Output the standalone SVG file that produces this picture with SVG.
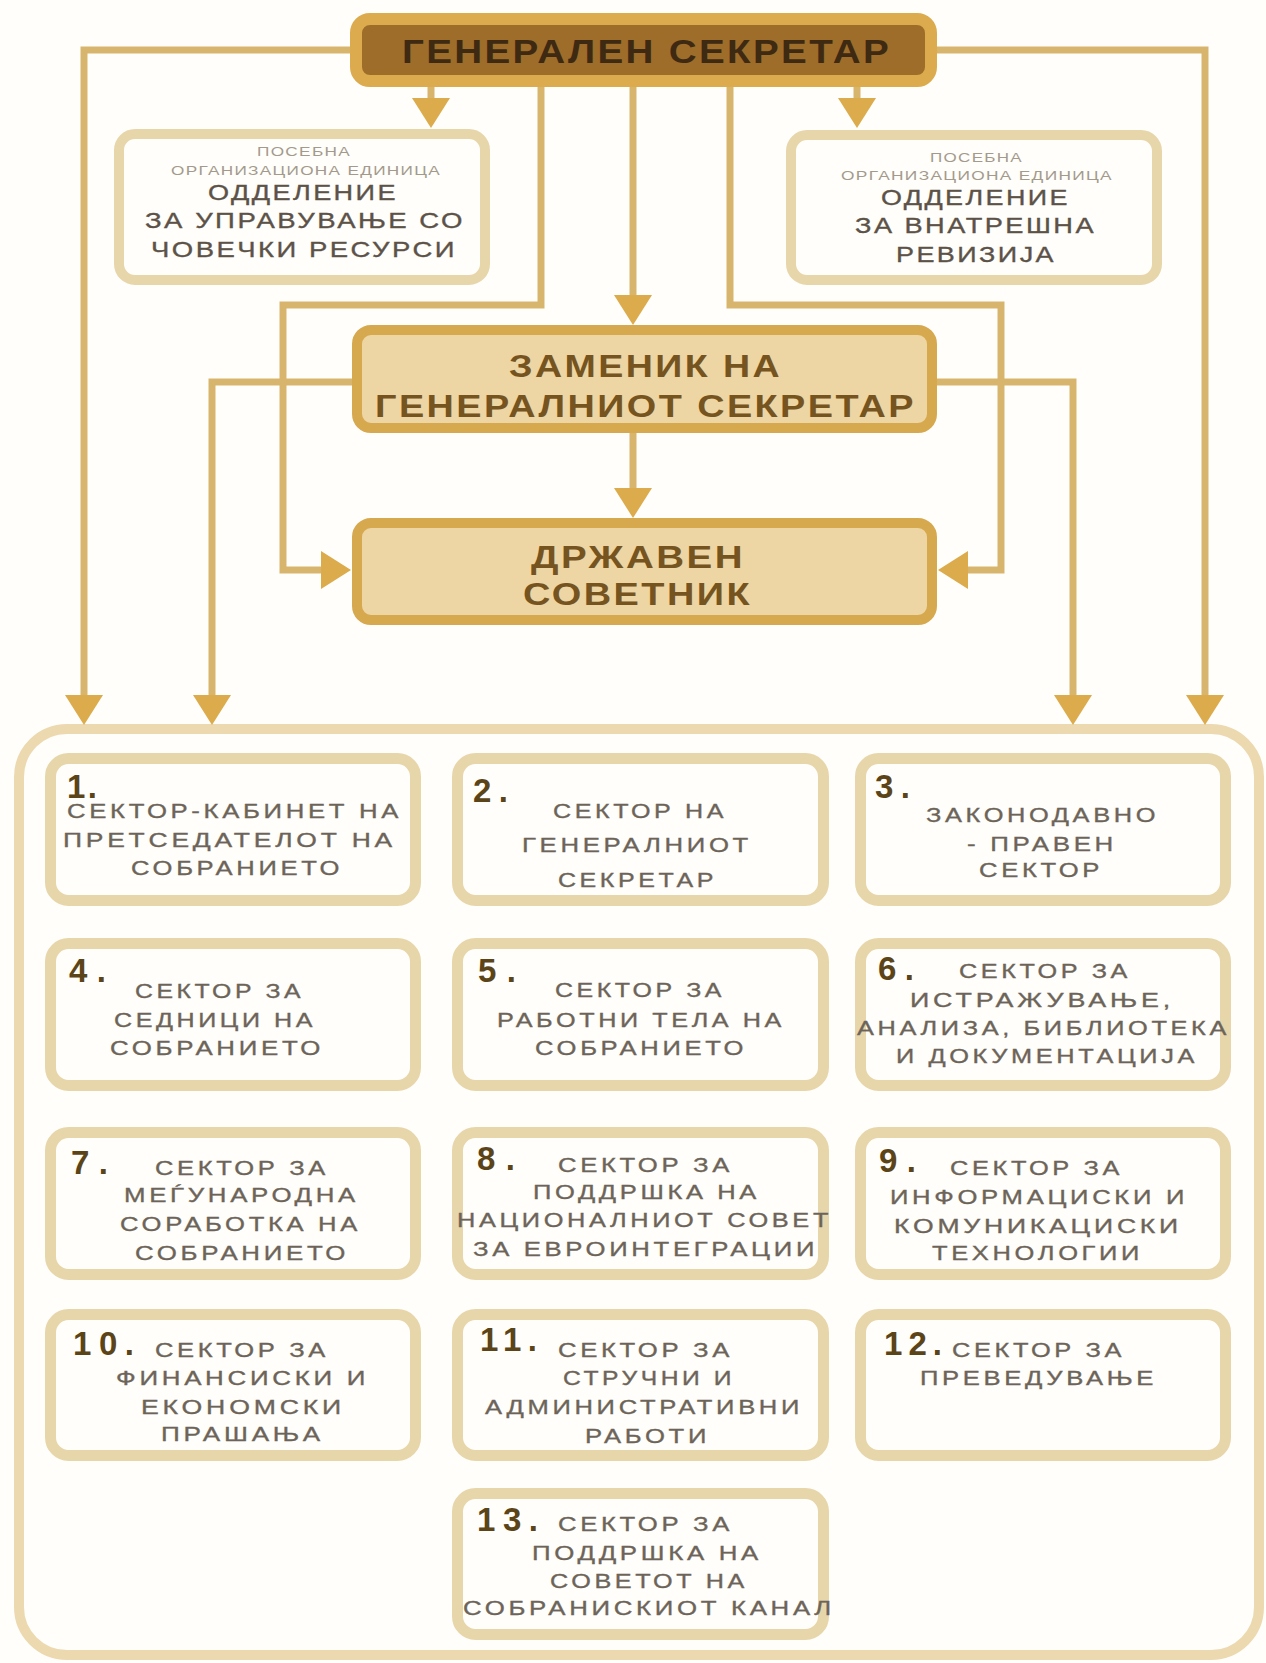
<svg xmlns="http://www.w3.org/2000/svg" width="1266" height="1663" viewBox="0 0 1266 1663">
<defs>
<marker id="ah" viewBox="0 0 30 38" markerWidth="30" markerHeight="38" refX="18" refY="19" orient="auto" markerUnits="userSpaceOnUse">
<path d="M0,0 L30,19 L0,38 Z" fill="#dbab4c"/>
</marker>
<style>
text{font-family:"Liberation Sans",Arial,sans-serif}
.conn{fill:none;stroke:#d8b56c;stroke-width:7;marker-end:url(#ah)}
.sec rect{fill:#fffefa;stroke:#e8d6ab;stroke-width:11}
.num{font-size:33px;font-weight:bold;fill:#5c4419}
.t{font-size:21px;letter-spacing:3px;fill:#6d6459;stroke:#6d6459;stroke-width:0.35px}
.sub rect{fill:#fffefa;stroke:#e8d6ab;stroke-width:10}
.sm{font-size:13px;letter-spacing:1px;fill:#a39a8c}
.st{font-size:22px;letter-spacing:2px;fill:#5c5248;stroke:#5c5248;stroke-width:0.35px}
.h1{font-size:33px;letter-spacing:2px;font-weight:bold;fill:#3e2a12}
.h2{font-size:31px;letter-spacing:2px;font-weight:bold;fill:#76541f}
.mid rect{fill:#edd6a3;stroke:#d7a94f;stroke-width:10}
</style>
</defs>
<rect width="1266" height="1663" fill="#fffefb"/>

<g id="container">
<rect x="19" y="729" width="1240" height="926" rx="48" fill="none" stroke="#ecd9b0" stroke-width="10"/>
</g>

<g id="connectors">
<path class="conn" d="M350,50 H84 V713"/>
<path class="conn" d="M937,50 H1205 V713"/>
<path class="conn" d="M431,87 V116"/>
<path class="conn" d="M857,87 V116"/>
<path class="conn" d="M541,87 V305 H283 V570 H339"/>
<path class="conn" d="M730,87 V305 H1001 V570 H950"/>
<path class="conn" d="M633,87 V313"/>
<path class="conn" d="M352,382 H212 V713"/>
<path class="conn" d="M937,382 H1073 V713"/>
<path class="conn" d="M633,433 V506"/>
</g>

<g id="generalen-sekretar">
<rect x="356" y="19" width="575" height="62" rx="14" fill="#9e6d2a" stroke="#dcab4d" stroke-width="12"/>
<text class="h1" x="402" y="63" textLength="489" lengthAdjust="spacingAndGlyphs">ГЕНЕРАЛЕН СЕКРЕТАР</text>
</g>

<g id="oddelenie-chovechki" class="sub">
<rect x="119" y="134" width="366" height="146" rx="16"/>
<text class="sm" x="257" y="156" textLength="94" lengthAdjust="spacingAndGlyphs">ПОСЕБНА</text>
<text class="sm" x="171" y="175" textLength="270" lengthAdjust="spacingAndGlyphs">ОРГАНИЗАЦИОНА ЕДИНИЦА</text>
<text class="st" x="208" y="200" textLength="190" lengthAdjust="spacingAndGlyphs">ОДДЕЛЕНИЕ</text>
<text class="st" x="145" y="228" textLength="320" lengthAdjust="spacingAndGlyphs">ЗА УПРАВУВАЊЕ СО</text>
<text class="st" x="151" y="257" textLength="306" lengthAdjust="spacingAndGlyphs">ЧОВЕЧКИ РЕСУРСИ</text>
</g>

<g id="oddelenie-revizija" class="sub">
<rect x="791" y="135" width="366" height="145" rx="16"/>
<text class="sm" x="930" y="162" textLength="93" lengthAdjust="spacingAndGlyphs">ПОСЕБНА</text>
<text class="sm" x="841" y="180" textLength="272" lengthAdjust="spacingAndGlyphs">ОРГАНИЗАЦИОНА ЕДИНИЦА</text>
<text class="st" x="881" y="205" textLength="189" lengthAdjust="spacingAndGlyphs">ОДДЕЛЕНИЕ</text>
<text class="st" x="855" y="233" textLength="241" lengthAdjust="spacingAndGlyphs">ЗА ВНАТРЕШНА</text>
<text class="st" x="896" y="262" textLength="160" lengthAdjust="spacingAndGlyphs">РЕВИЗИЈА</text>
</g>

<g id="zamenik" class="mid">
<rect x="357" y="330" width="575" height="98" rx="14"/>
<text class="h2" x="509" y="377" textLength="273" lengthAdjust="spacingAndGlyphs">ЗАМЕНИК НА</text>
<text class="h2" x="375" y="417" textLength="541" lengthAdjust="spacingAndGlyphs">ГЕНЕРАЛНИОТ СЕКРЕТАР</text>
</g>

<g id="drzhaven-sovetnik" class="mid">
<rect x="357" y="523" width="575" height="97" rx="14"/>
<text class="h2" x="531" y="568" textLength="214" lengthAdjust="spacingAndGlyphs">ДРЖАВЕН</text>
<text class="h2" x="523" y="605" textLength="229" lengthAdjust="spacingAndGlyphs">СОВЕТНИК</text>
</g>

<g id="sektor-1" class="sec">
<rect x="50.5" y="758.5" width="365" height="142" rx="18"/>
<text class="num" x="67" y="798" textLength="30" lengthAdjust="spacing">1.</text>
<text class="t" x="67" y="818" textLength="335" lengthAdjust="spacingAndGlyphs">СЕКТОР-КАБИНЕТ НА</text>
<text class="t" x="63" y="847" textLength="333" lengthAdjust="spacingAndGlyphs">ПРЕТСЕДАТЕЛОТ НА</text>
<text class="t" x="131" y="875" textLength="212" lengthAdjust="spacingAndGlyphs">СОБРАНИЕТО</text>
</g>

<g id="sektor-2" class="sec">
<rect x="457.5" y="758.5" width="366" height="142" rx="18"/>
<text class="num" x="473" y="802" textLength="35" lengthAdjust="spacing">2.</text>
<text class="t" x="553" y="818" textLength="174" lengthAdjust="spacingAndGlyphs">СЕКТОР НА</text>
<text class="t" x="522" y="852" textLength="230" lengthAdjust="spacingAndGlyphs">ГЕНЕРАЛНИОТ</text>
<text class="t" x="558" y="887" textLength="159" lengthAdjust="spacingAndGlyphs">СЕКРЕТАР</text>
</g>

<g id="sektor-3" class="sec">
<rect x="860.5" y="758.5" width="365" height="142" rx="18"/>
<text class="num" x="875" y="798" textLength="35" lengthAdjust="spacing">3.</text>
<text class="t" x="926" y="822" textLength="233" lengthAdjust="spacingAndGlyphs">ЗАКОНОДАВНО</text>
<text class="t" x="967" y="851" textLength="150" lengthAdjust="spacingAndGlyphs">- ПРАВЕН</text>
<text class="t" x="979" y="877" textLength="124" lengthAdjust="spacingAndGlyphs">СЕКТОР</text>
</g>

<g id="sektor-4" class="sec">
<rect x="50.5" y="943.5" width="365" height="142" rx="18"/>
<text class="num" x="69" y="982" textLength="37" lengthAdjust="spacing">4.</text>
<text class="t" x="135" y="998" textLength="169" lengthAdjust="spacingAndGlyphs">СЕКТОР ЗА</text>
<text class="t" x="114" y="1027" textLength="202" lengthAdjust="spacingAndGlyphs">СЕДНИЦИ НА</text>
<text class="t" x="110" y="1055" textLength="214" lengthAdjust="spacingAndGlyphs">СОБРАНИЕТО</text>
</g>

<g id="sektor-5" class="sec">
<rect x="457.5" y="943.5" width="366" height="142" rx="18"/>
<text class="num" x="478" y="982" textLength="38" lengthAdjust="spacing">5.</text>
<text class="t" x="555" y="997" textLength="170" lengthAdjust="spacingAndGlyphs">СЕКТОР ЗА</text>
<text class="t" x="497" y="1027" textLength="288" lengthAdjust="spacingAndGlyphs">РАБОТНИ ТЕЛА НА</text>
<text class="t" x="535" y="1055" textLength="212" lengthAdjust="spacingAndGlyphs">СОБРАНИЕТО</text>
</g>

<g id="sektor-6" class="sec">
<rect x="860.5" y="943.5" width="365" height="142" rx="18"/>
<text class="num" x="878" y="980" textLength="36" lengthAdjust="spacing">6.</text>
<text class="t" x="959" y="978" textLength="172" lengthAdjust="spacingAndGlyphs">СЕКТОР ЗА</text>
<text class="t" x="910" y="1007" textLength="264" lengthAdjust="spacingAndGlyphs">ИСТРАЖУВАЊЕ,</text>
<text class="t" x="857" y="1035" textLength="373" lengthAdjust="spacingAndGlyphs">АНАЛИЗА, БИБЛИОТЕКА</text>
<text class="t" x="896" y="1063" textLength="302" lengthAdjust="spacingAndGlyphs">И ДОКУМЕНТАЦИЈА</text>
</g>

<g id="sektor-7" class="sec">
<rect x="50.5" y="1132.5" width="365" height="142" rx="18"/>
<text class="num" x="71" y="1174" textLength="37" lengthAdjust="spacing">7.</text>
<text class="t" x="155" y="1175" textLength="174" lengthAdjust="spacingAndGlyphs">СЕКТОР ЗА</text>
<text class="t" x="124" y="1202" textLength="235" lengthAdjust="spacingAndGlyphs">МЕЃУНАРОДНА</text>
<text class="t" x="120" y="1231" textLength="241" lengthAdjust="spacingAndGlyphs">СОРАБОТКА НА</text>
<text class="t" x="135" y="1260" textLength="214" lengthAdjust="spacingAndGlyphs">СОБРАНИЕТО</text>
</g>

<g id="sektor-8" class="sec">
<rect x="457.5" y="1132.5" width="366" height="142" rx="18"/>
<text class="num" x="477" y="1170" textLength="38" lengthAdjust="spacing">8.</text>
<text class="t" x="558" y="1172" textLength="175" lengthAdjust="spacingAndGlyphs">СЕКТОР ЗА</text>
<text class="t" x="533" y="1199" textLength="227" lengthAdjust="spacingAndGlyphs">ПОДДРШКА НА</text>
<text class="t" x="457" y="1227" textLength="375" lengthAdjust="spacingAndGlyphs">НАЦИОНАЛНИОТ СОВЕТ</text>
<text class="t" x="473" y="1256" textLength="345" lengthAdjust="spacingAndGlyphs">ЗА ЕВРОИНТЕГРАЦИИ</text>
</g>

<g id="sektor-9" class="sec">
<rect x="860.5" y="1132.5" width="365" height="142" rx="18"/>
<text class="num" x="879" y="1172" textLength="37" lengthAdjust="spacing">9.</text>
<text class="t" x="950" y="1175" textLength="173" lengthAdjust="spacingAndGlyphs">СЕКТОР ЗА</text>
<text class="t" x="890" y="1204" textLength="298" lengthAdjust="spacingAndGlyphs">ИНФОРМАЦИСКИ И</text>
<text class="t" x="894" y="1233" textLength="288" lengthAdjust="spacingAndGlyphs">КОМУНИКАЦИСКИ</text>
<text class="t" x="932" y="1260" textLength="211" lengthAdjust="spacingAndGlyphs">ТЕХНОЛОГИИ</text>
</g>

<g id="sektor-10" class="sec">
<rect x="50.5" y="1314.5" width="365" height="141" rx="18"/>
<text class="num" x="73" y="1355" textLength="61" lengthAdjust="spacing">10.</text>
<text class="t" x="155" y="1357" textLength="174" lengthAdjust="spacingAndGlyphs">СЕКТОР ЗА</text>
<text class="t" x="116" y="1385" textLength="253" lengthAdjust="spacingAndGlyphs">ФИНАНСИСКИ И</text>
<text class="t" x="141" y="1414" textLength="204" lengthAdjust="spacingAndGlyphs">ЕКОНОМСКИ</text>
<text class="t" x="161" y="1441" textLength="163" lengthAdjust="spacingAndGlyphs">ПРАШАЊА</text>
</g>

<g id="sektor-11" class="sec">
<rect x="457.5" y="1314.5" width="366" height="141" rx="18"/>
<text class="num" x="480" y="1351" textLength="57" lengthAdjust="spacing">11.</text>
<text class="t" x="558" y="1357" textLength="175" lengthAdjust="spacingAndGlyphs">СЕКТОР ЗА</text>
<text class="t" x="563" y="1385" textLength="172" lengthAdjust="spacingAndGlyphs">СТРУЧНИ И</text>
<text class="t" x="485" y="1414" textLength="318" lengthAdjust="spacingAndGlyphs">АДМИНИСТРАТИВНИ</text>
<text class="t" x="585" y="1443" textLength="125" lengthAdjust="spacingAndGlyphs">РАБОТИ</text>
</g>

<g id="sektor-12" class="sec">
<rect x="860.5" y="1314.5" width="365" height="141" rx="18"/>
<text class="num" x="884" y="1355" textLength="58" lengthAdjust="spacing">12.</text>
<text class="t" x="952" y="1357" textLength="173" lengthAdjust="spacingAndGlyphs">СЕКТОР ЗА</text>
<text class="t" x="920" y="1385" textLength="237" lengthAdjust="spacingAndGlyphs">ПРЕВЕДУВАЊЕ</text>
</g>

<g id="sektor-13" class="sec">
<rect x="457.5" y="1493.5" width="366" height="141" rx="18"/>
<text class="num" x="477" y="1531" textLength="61" lengthAdjust="spacing">13.</text>
<text class="t" x="558" y="1531" textLength="175" lengthAdjust="spacingAndGlyphs">СЕКТОР ЗА</text>
<text class="t" x="532" y="1560" textLength="230" lengthAdjust="spacingAndGlyphs">ПОДДРШКА НА</text>
<text class="t" x="550" y="1588" textLength="198" lengthAdjust="spacingAndGlyphs">СОВЕТОТ НА</text>
<text class="t" x="463" y="1615" textLength="372" lengthAdjust="spacingAndGlyphs">СОБРАНИСКИОТ КАНАЛ</text>
</g>
</svg>
